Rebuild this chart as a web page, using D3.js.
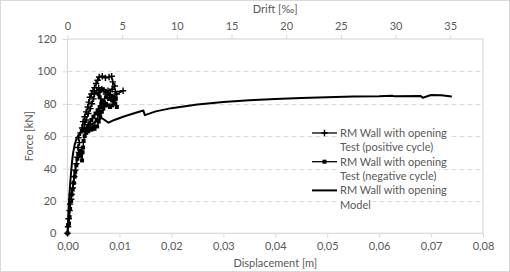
<!DOCTYPE html>
<html>
<head>
<meta charset="utf-8">
<script src="https://cdn.jsdelivr.net/npm/d3@7"></script>
<style>
  html, body { margin: 0; padding: 0; background: #fff; }
  svg { display: block; }
</style>
</head>
<body>
<svg id="chart" width="510" height="272"></svg>
<script>
// Test, positive cycle (displacement [m], force [kN])
const posDisp = [0, 0.0001, 0.0002, 0.0004, 0.0005, 0.0007, 0.0008, 0.0010, 0.0011, 0.0013,
  0.0015, 0.0017, 0.0019, 0.0022, 0.0020, 0.0023, 0.0021, 0.0025, 0.0028, 0.0030,
  0.0033, 0.0036, 0.0039, 0.0041, 0.0043, 0.0046, 0.0049, 0.0052, 0.0055, 0.0058,
  0.0061, 0.0067, 0.0073, 0.0080, 0.0085, 0.0087, 0.0091, 0.0086, 0.0078, 0.0092,
  0.0107, 0.0095, 0.0084, 0.0074, 0.0066, 0.0060, 0.0056, 0.0052, 0.0050, 0.0047,
  0.0044, 0.0040, 0.0036, 0.0033, 0.0030, 0.0034, 0.0040];
const posForce = [0, 4, 9, 14, 18, 21, 24, 28, 31, 35,
  39, 43, 47, 50, 53, 56, 59, 62, 65, 69,
  72, 75, 78, 81, 84, 86, 88, 90, 92.5, 94.5,
  96.5, 97, 96, 96.5, 97, 93.5, 91, 89, 88, 87.5,
  88, 86, 84, 86, 89, 90, 88, 86, 83, 80,
  77, 74, 70, 67, 64, 63, 65];

// Test, negative cycle (absolute values)
const negDisp = [0, 0.0001, 0.0003, 0.0004, 0.0005, 0.0007, 0.0008, 0.0010, 0.0012, 0.0014,
  0.0015, 0.0017, 0.0019, 0.0021, 0.0024, 0.0026, 0.0028, 0.0029, 0.0030, 0.0031,
  0.0033, 0.0036, 0.0040, 0.0046, 0.0052, 0.0057, 0.0060, 0.0063, 0.0066, 0.0069,
  0.0072, 0.0070, 0.0066, 0.0062, 0.0060, 0.0063, 0.0068, 0.0072, 0.0076, 0.0080,
  0.0085, 0.0090, 0.0093, 0.0090, 0.0086, 0.0082, 0.0078, 0.0074, 0.0069, 0.0065,
  0.0062, 0.0058, 0.0054, 0.0050, 0.0046, 0.0042, 0.0040, 0.0044, 0.0050, 0.0056,
  0.0060, 0.0064, 0.0068, 0.0074, 0.0080, 0.0086, 0.0092, 0.0095];
const negForce = [0, 5, 6, 10, 15, 20, 24, 27, 31, 35,
  38, 42, 46, 49, 51, 48, 45, 50, 53, 57,
  60, 62, 63, 64, 64.5, 66, 69, 72, 75, 77,
  79, 81, 82, 84, 86, 88, 89, 88, 87, 86,
  85, 84, 83, 81, 79, 78, 79, 80, 81, 80,
  78, 76, 74, 72, 70, 68, 66, 65, 66, 70,
  74, 78, 82, 84, 83, 82, 80, 78];

// Model
const modelDisp = [0, 0.0001, 0.0002, 0.0003, 0.0005, 0.0007, 0.0009, 0.0011, 0.0014, 0.0018,
  0.0024, 0.0032, 0.0042, 0.0052, 0.0062, 0.0066, 0.0079, 0.0090, 0.0110, 0.0130,
  0.0146, 0.0149, 0.0170, 0.0200, 0.0250, 0.0300, 0.0350, 0.0400, 0.0450, 0.0500,
  0.0550, 0.0600, 0.0625, 0.0628, 0.0680, 0.0684, 0.0700, 0.0720, 0.0740];
const modelForce = [0, 7, 14, 20, 30, 38, 45, 50, 55, 59,
  62, 64.5, 66.5, 68.5, 70.5, 71.2, 68.3, 70, 72.3, 74.3,
  75.8, 73, 75.3, 77.3, 79.6, 81.1, 82.2, 83.0, 83.6, 84.1,
  84.5, 84.7, 85.0, 84.7, 84.8, 83.7, 85.4, 85.2, 84.5];

const xTicks = [0, 0.01, 0.02, 0.03, 0.04, 0.05, 0.06, 0.07, 0.08];
const driftTicks = [0, 5, 10, 15, 20, 25, 30, 35];
const yTicks = [0, 20, 40, 60, 80, 100, 120];

const legendLabels = [
  ["RM Wall with opening", "Test (positive cycle)"],
  ["RM Wall with opening", "Test (negative cycle)"],
  ["RM Wall with opening", "Model"]
];

const width = 510, height = 272;
const margin = { top: 39, right: 27, bottom: 38.7, left: 67.5 };
const innerWidth = width - margin.left - margin.right;
const innerHeight = height - margin.top - margin.bottom;
const textColor = "#595959";
const gridColor = "#d9d9d9";
const font = "Lato, 'Liberation Sans', sans-serif";
const fontSize = "11px";

const locale = d3.formatLocale({ decimal: ",", thousands: ".", grouping: [3], currency: ["", ""] });
const fmt2 = locale.format(".2f");

const svg = d3.select("#chart");

svg.append("rect")
  .attr("x", 0.5).attr("y", 0.5)
  .attr("width", width - 1).attr("height", height - 1)
  .attr("fill", "#fff")
  .attr("stroke", gridColor);

const g = svg.append("g").attr("transform", `translate(${margin.left},${margin.top})`);

const x = d3.scaleLinear().domain([0, 0.08]).range([0, innerWidth]);
const xTop = d3.scaleLinear().domain([0, 38]).range([0, innerWidth]);
const y = d3.scaleLinear().domain([0, 120]).range([innerHeight, 0]);

// gridlines
g.append("g")
  .selectAll("line")
  .data(yTicks.filter(d => d > 0 && d < 120))
  .enter()
  .append("line")
  .attr("x1", 0).attr("x2", innerWidth)
  .attr("y1", d => Math.round(y(d)) + 0.5).attr("y2", d => Math.round(y(d)) + 0.5)
  .attr("stroke", gridColor)
  .attr("stroke-width", 1)
  .attr("stroke-dasharray", "5,3");

// plot box
g.append("rect")
  .attr("x", 0).attr("y", 0)
  .attr("width", innerWidth).attr("height", innerHeight)
  .attr("fill", "none")
  .attr("stroke", gridColor)
  .attr("stroke-width", 1.2);

function styleAxis(sel) {
  sel.select(".domain").remove();
  sel.selectAll(".tick line").attr("stroke", gridColor);
  sel.selectAll(".tick text")
    .attr("fill", textColor)
    .style("font-family", font)
    .style("font-size", fontSize);
}

g.append("g")
  .attr("transform", `translate(0,${innerHeight})`)
  .call(d3.axisBottom(x).tickValues(xTicks).tickFormat(fmt2).tickSize(4).tickPadding(5))
  .call(styleAxis);

g.append("g")
  .call(d3.axisTop(xTop).tickValues(driftTicks).tickFormat(d3.format("d")).tickSize(4).tickPadding(5))
  .call(styleAxis);

g.append("g")
  .call(d3.axisLeft(y).tickValues(yTicks).tickSize(5).tickPadding(6))
  .call(styleAxis);

// axis titles
svg.append("text")
  .attr("x", margin.left + innerWidth / 2).attr("y", 267)
  .attr("text-anchor", "middle")
  .attr("fill", textColor)
  .style("font-family", font).style("font-size", fontSize)
  .text("Displacement [m]");

svg.append("text")
  .attr("x", margin.left + innerWidth / 2).attr("y", 13)
  .attr("text-anchor", "middle")
  .attr("fill", textColor)
  .style("font-family", font).style("font-size", fontSize)
  .text("Drift [‰]");

svg.append("text")
  .attr("transform", `translate(33,${margin.top + innerHeight / 2}) rotate(-90)`)
  .attr("text-anchor", "middle")
  .attr("fill", textColor)
  .style("font-family", font).style("font-size", fontSize)
  .text("Force [kN]");

// series
const toPoints = (xs, ys) => xs.map((d, i) => [d, ys[i]]);
const line = d3.line().x(d => x(d[0])).y(d => y(d[1]));

const posPts = toPoints(posDisp, posForce);
const negPts = toPoints(negDisp, negForce);
const modelPts = toPoints(modelDisp, modelForce);

const plot = g.append("g");

plot.append("path")
  .datum(negPts)
  .attr("fill", "none").attr("stroke", "#000").attr("stroke-width", 1.3)
  .attr("d", line);

plot.selectAll(".neg")
  .data(negPts)
  .enter()
  .append("rect")
  .attr("class", "neg")
  .attr("x", d => x(d[0]) - 2).attr("y", d => y(d[1]) - 2)
  .attr("width", 4).attr("height", 4)
  .attr("fill", "#000");

plot.append("path")
  .datum(posPts)
  .attr("fill", "none").attr("stroke", "#000").attr("stroke-width", 1.3)
  .attr("d", line);

plot.selectAll(".pos")
  .data(posPts)
  .enter()
  .append("path")
  .attr("class", "pos")
  .attr("transform", d => `translate(${x(d[0])},${y(d[1])})`)
  .attr("d", "M-3.2,0H3.2M0,-3.2V3.2")
  .attr("stroke", "#000")
  .attr("stroke-width", 1.4);

plot.append("path")
  .datum(modelPts)
  .attr("fill", "none").attr("stroke", "#000").attr("stroke-width", 2)
  .attr("stroke-linejoin", "round")
  .attr("d", line);

// legend
const legend = svg.append("g").attr("transform", "translate(312,133)");
legendLabels.forEach((lines, i) => {
  const row = legend.append("g").attr("transform", `translate(0,${i * 28.7})`);
  lines.forEach((t, j) => {
    const txt = row.append("text")
      .attr("x", 28).attr("y", j * 14.3)
      .attr("dy", "0.35em")
      .attr("fill", textColor)
      .style("font-family", font).style("font-size", fontSize)
      .text(t);
    const bb = txt.node().getBBox();
    row.insert("rect", "text")
      .attr("x", bb.x - 1).attr("y", bb.y)
      .attr("width", bb.width + 3).attr("height", bb.height)
      .attr("fill", "#fff");
  });
  row.append("line")
    .attr("x1", 0).attr("x2", 25).attr("y1", 0).attr("y2", 0)
    .attr("stroke", "#000").attr("stroke-width", i === 2 ? 2 : 1.3);
  if (i === 0) {
    row.append("path").attr("transform", "translate(12.5,0)")
      .attr("d", "M-3.2,0H3.2M0,-3.2V3.2").attr("stroke", "#000").attr("stroke-width", 1.4);
  } else if (i === 1) {
    row.append("rect").attr("x", 10.5).attr("y", -2).attr("width", 4).attr("height", 4).attr("fill", "#000");
  }
});
</script>
</body>
</html>
